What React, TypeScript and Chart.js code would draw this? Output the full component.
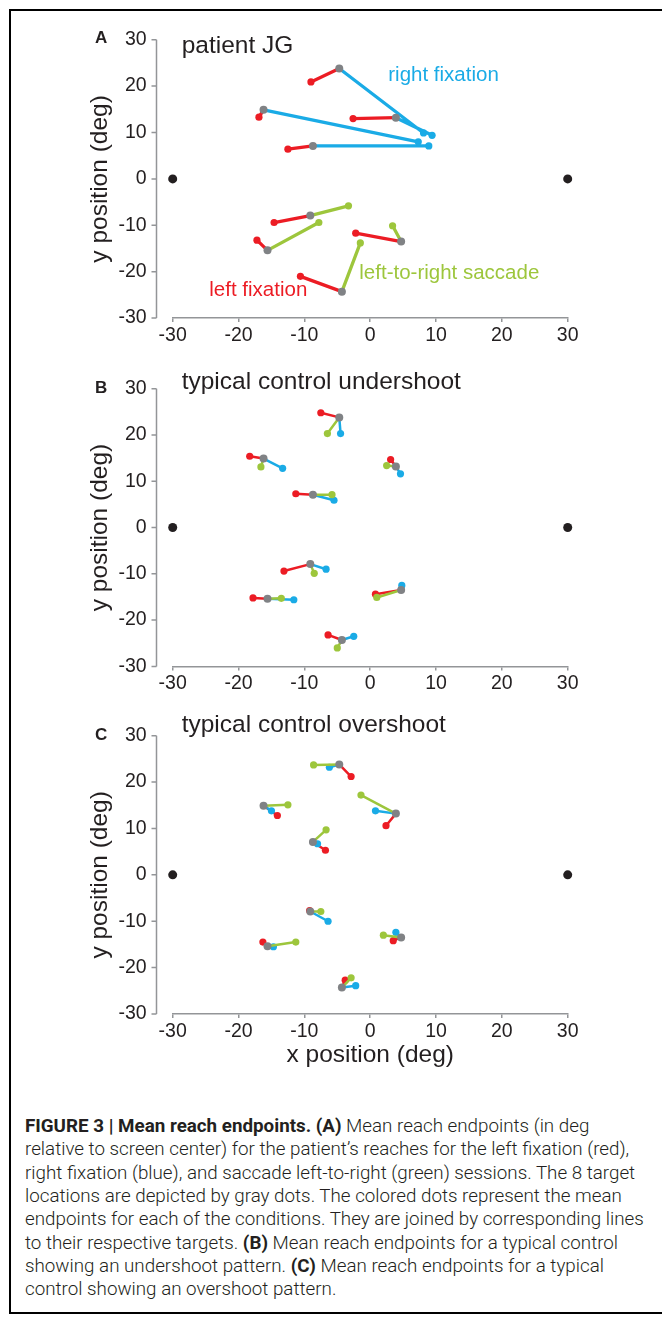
import React, { useEffect, useRef } from "react";
import { Chart, registerables } from "chart.js";

Chart.register(...registerables);

// ---------------- data ----------------
const AXIS_MIN = -30;
const AXIS_MAX = 30;
const TICK_STEP = 10;

// fixation points (black)
const FIXATION_X = [-30, 30];
const FIXATION_Y = [0, 0];

// the 8 target locations (gray)
const TARGET_X = [-4.7, -16.2, 3.9, -8.7, -9.1, -15.6, 4.7, -4.3];
const TARGET_Y = [23.8, 14.9, 13.2, 7.1, -7.9, -15.4, -13.5, -24.3];

// Panel A – patient JG
const A_LEFT_X = [-9.0, -16.9, -2.6, -12.5, -14.6, -17.2, -2.2, -10.6];
const A_LEFT_Y = [20.9, 13.3, 13.0, 6.4, -9.4, -13.2, -11.7, -21.0];
const A_RIGHT_X = [8.1, 7.3, 9.4, 8.9, null, null, null, null];
const A_RIGHT_Y = [9.9, 8.0, 9.4, 7.1, null, null, null, null];
const A_SACC_X = [null, null, null, null, -3.3, -7.8, 3.4, -1.5];
const A_SACC_Y = [null, null, null, null, -5.8, -9.4, -10.1, -13.8];

// Panel B – typical control undershoot
const B_LEFT_X = [-7.5, -18.3, 3.1, -11.3, -13.1, -17.8, 0.8, -6.4];
const B_LEFT_Y = [24.8, 15.4, 14.7, 7.3, -9.4, -15.2, -14.4, -23.2];
const B_RIGHT_X = [-4.5, -13.3, 4.6, -5.5, -6.7, -11.6, 4.8, -2.5];
const B_RIGHT_Y = [20.3, 12.8, 11.6, 5.9, -9.0, -15.6, -12.5, -23.5];
const B_SACC_X = [-6.5, -16.6, 2.5, -5.8, -8.5, -13.5, 1.0, -5.0];
const B_SACC_Y = [20.3, 13.1, 13.4, 7.1, -9.9, -15.3, -15.1, -26.0];

// Panel C – typical control overshoot
const C_LEFT_X = [-2.9, -14.1, 2.4, -6.8, -9.2, -16.3, 3.5, -3.8];
const C_LEFT_Y = [21.2, 12.8, 10.6, 5.3, -7.7, -14.5, -14.2, -22.7];
const C_RIGHT_X = [-6.2, -15.0, 0.8, -8.0, -6.4, -14.7, 3.9, -2.2];
const C_RIGHT_Y = [23.2, 13.8, 13.8, 6.7, -10.0, -15.5, -12.4, -23.9];
const C_SACC_X = [-8.6, -12.5, -1.4, -6.7, -7.5, -11.3, 2.0, -2.9];
const C_SACC_Y = [23.7, 15.1, 17.2, 9.7, -7.9, -14.5, -13.0, -22.2];

const Y_TITLE = "y position (deg)";
const X_TITLE = "x position (deg)";

// ---------------- styles ----------------
const RED = "#ec1c24";
const BLUE = "#1aabe6";
const GREEN = "#9dc63c";
const GRAY = "#808285";
const BLACK = "#231f20";
const AXIS = "#939598";
const FONT = "'Liberation Sans', Arial, Helvetica, sans-serif";
const TEXT = "#231f20";

type Num = number | null;

function segments(tx: Num[], ty: Num[], ex: Num[], ey: Num[]) {
  const out: { x: Num; y: Num }[] = [];
  for (let i = 0; i < tx.length; i++) {
    if (ex[i] === null || ey[i] === null) continue;
    out.push({ x: tx[i], y: ty[i] }, { x: ex[i], y: ey[i] }, { x: null, y: null });
  }
  return out;
}

function condition(label: string, color: string, data: any[], lw: number, order: number) {
  const r = (ctx: any) => (ctx.dataIndex % 3 === 1 ? 3.6 : 0);
  return {
    label,
    data,
    showLine: true,
    spanGaps: false,
    borderColor: color,
    backgroundColor: color,
    borderWidth: lw,
    pointRadius: r,
    pointHoverRadius: r,
    pointBackgroundColor: color,
    pointBorderWidth: 0,
    clip: false,
    order,
  };
}

const Y_GAP = 16.7; // y axis line drawn left of x = -30

const offsetYAxis = {
  id: "offsetYAxis",
  afterDraw(chart: any) {
    const { ctx, chartArea } = chart;
    const y = chart.scales.y;
    const x0 = Math.round(chartArea.left - Y_GAP) + 0.5;
    ctx.save();
    ctx.strokeStyle = AXIS;
    ctx.lineWidth = 1.5;
    ctx.beginPath();
    ctx.moveTo(x0, y.getPixelForValue(AXIS_MAX));
    ctx.lineTo(x0, y.getPixelForValue(AXIS_MIN));
    y.ticks.forEach((t: any) => {
      const py = y.getPixelForValue(t.value);
      ctx.moveTo(x0 - 5, py);
      ctx.lineTo(x0, py);
    });
    ctx.stroke();
    ctx.restore();
  },
};

interface PanelCfg {
  left: number;
  top: number;
  width: number;
  height: number;
  padRight: number;
  yWidth: number;
  xHeight: number;
  lineWidth: number;
  showXTitle: boolean;
  left_x: Num[];
  left_y: Num[];
  right_x: Num[];
  right_y: Num[];
  sacc_x: Num[];
  sacc_y: Num[];
}

function buildConfig(c: PanelCfg): any {
  const tickFont = { family: FONT, size: 19.5 };
  const titleFont = { family: FONT, size: 24.5 };
  return {
    type: "scatter",
    data: {
      datasets: [
        {
          label: "fixation",
          data: FIXATION_X.map((x, i) => ({ x, y: FIXATION_Y[i] })),
          pointRadius: 4.5,
          pointBackgroundColor: BLACK,
          pointBorderWidth: 0,
          showLine: false,
          clip: false,
          order: 0,
        },
        {
          label: "targets",
          data: TARGET_X.map((x, i) => ({ x, y: TARGET_Y[i] })),
          pointRadius: 4,
          pointBackgroundColor: GRAY,
          pointBorderWidth: 0,
          showLine: false,
          clip: false,
          order: 0,
        },
        condition("left-to-right saccade", GREEN, segments(TARGET_X, TARGET_Y, c.sacc_x, c.sacc_y), c.lineWidth, 1),
        condition("right fixation", BLUE, segments(TARGET_X, TARGET_Y, c.right_x, c.right_y), c.lineWidth, 2),
        condition("left fixation", RED, segments(TARGET_X, TARGET_Y, c.left_x, c.left_y), c.lineWidth, 3),
      ],
    },
    options: {
      responsive: false,
      animation: false,
      events: [],
      layout: { padding: { left: 0, top: 0, right: c.padRight, bottom: 0 } },
      plugins: { legend: { display: false }, tooltip: { enabled: false }, title: { display: false } },
      scales: {
        x: {
          type: "linear",
          min: AXIS_MIN,
          max: AXIS_MAX,
          ticks: { stepSize: TICK_STEP, padding: 2, color: TEXT, font: tickFont, maxRotation: 0 },
          grid: { display: true, drawOnChartArea: false, drawTicks: true, tickLength: 4, color: AXIS, lineWidth: 1.5 },
          border: { display: true, color: AXIS, width: 1.5 },
          title: {
            display: c.showXTitle,
            text: X_TITLE,
            color: TEXT,
            font: titleFont,
            padding: { top: 0, bottom: 6 },
          },
          afterFit: (s: any) => {
            s.height = c.xHeight;
          },
        },
        y: {
          type: "linear",
          min: AXIS_MIN,
          max: AXIS_MAX,
          // y padding (26) + half label height (11.7) => 37.7px layout padding above/below the plot
          ticks: { stepSize: TICK_STEP, padding: 26, color: TEXT, font: tickFont },
          grid: { display: false, drawTicks: false },
          border: { display: false },
          title: {
            display: true,
            text: Y_TITLE,
            color: TEXT,
            font: titleFont,
            padding: { top: 6, bottom: 0 },
          },
          afterFit: (s: any) => {
            s.width = c.yWidth;
          },
        },
      },
    },
    plugins: [offsetYAxis],
  };
}

function Panel({ cfg }: { cfg: PanelCfg }) {
  const ref = useRef<HTMLCanvasElement | null>(null);
  useEffect(() => {
    const chart = new Chart(ref.current as HTMLCanvasElement, buildConfig(cfg));
    return () => chart.destroy();
  }, []);
  return (
    <canvas
      ref={ref}
      width={cfg.width}
      height={cfg.height}
      style={{ position: "absolute", left: cfg.left, top: cfg.top, width: cfg.width, height: cfg.height }}
    />
  );
}

// plot tops: 39.3 / 388.3 / 735.7 ; plot heights: 278.4 / 277.7 / 278.3 ; 37.7px auto padding above the plot
const PANELS: PanelCfg[] = [
  {
    left: 80, top: 1.6, width: 540, height: 356, padRight: 52.3, yWidth: 92.7, xHeight: 39.9,
    lineWidth: 3.3, showXTitle: false,
    left_x: A_LEFT_X, left_y: A_LEFT_Y, right_x: A_RIGHT_X, right_y: A_RIGHT_Y, sacc_x: A_SACC_X, sacc_y: A_SACC_Y,
  },
  {
    left: 80, top: 350.6, width: 540, height: 356, padRight: 52.3, yWidth: 92.7, xHeight: 40.6,
    lineWidth: 2.5, showXTitle: false,
    left_x: B_LEFT_X, left_y: B_LEFT_Y, right_x: B_RIGHT_X, right_y: B_RIGHT_Y, sacc_x: B_SACC_X, sacc_y: B_SACC_Y,
  },
  {
    left: 80, top: 698, width: 540, height: 378, padRight: 52.3, yWidth: 92.7, xHeight: 62,
    lineWidth: 2.5, showXTitle: true,
    left_x: C_LEFT_X, left_y: C_LEFT_Y, right_x: C_RIGHT_X, right_y: C_RIGHT_Y, sacc_x: C_SACC_X, sacc_y: C_SACC_Y,
  },
];

function Txt(props: { x: number; y: number; size: number; color?: string; bold?: boolean; children: any }) {
  return (
    <div
      style={{
        position: "absolute",
        left: props.x,
        top: props.y,
        fontFamily: FONT,
        fontSize: props.size,
        lineHeight: `${props.size}px`,
        fontWeight: props.bold ? 700 : 400,
        color: props.color || TEXT,
        whiteSpace: "nowrap",
      }}
    >
      {props.children}
    </div>
  );
}

const CAPTION_FONT = "Roboto, 'Liberation Sans', Arial, sans-serif";

export default function App() {
  return (
    <div>
      <div
        style={{
          position: "absolute",
          left: 9,
          top: 9,
          width: 653,
          height: 1305,
          boxSizing: "border-box",
          borderTop: "2px solid #000",
          borderLeft: "2px solid #000",
          borderBottom: "2px solid #000",
          background: "#fff",
        }}
      />
      {PANELS.map((p, i) => (
        <Panel key={i} cfg={p} />
      ))}
      <Txt x={95} y={28.9} size={17} bold>A</Txt>
      <Txt x={95} y={378.6} size={17} bold>B</Txt>
      <Txt x={95} y={725.6} size={17} bold>C</Txt>
      <Txt x={181.7} y={33.3} size={24.5}>patient JG</Txt>
      <Txt x={181.7} y={369} size={24.5}>typical control undershoot</Txt>
      <Txt x={181.7} y={711.5} size={24.5}>typical control overshoot</Txt>
      <Txt x={388.3} y={63.6} size={20.5} color={BLUE}>right fixation</Txt>
      <Txt x={209.3} y={279.3} size={20.5} color={RED}>left fixation</Txt>
      <Txt x={359.3} y={261.6} size={20.5} color={GREEN}>left-to-right saccade</Txt>
      <div
        style={{
          position: "absolute",
          left: 25,
          top: 1115,
          fontFamily: CAPTION_FONT,
          fontSize: 18.8,
          lineHeight: "23.33px",
          fontWeight: 300,
          color: TEXT,
          whiteSpace: "nowrap",
        }}
      >
        <div>
          <b style={{ fontWeight: 700 }}>FIGURE 3 | Mean reach endpoints.</b> <b style={{ fontWeight: 700 }}>(A)</b> Mean reach endpoints (in deg
        </div>
        <div>relative to screen center) for the patient’s reaches for the left fixation (red),</div>
        <div>right fixation (blue), and saccade left-to-right (green) sessions. The 8 target</div>
        <div>locations are depicted by gray dots. The colored dots represent the mean</div>
        <div>endpoints for each of the conditions. They are joined by corresponding lines</div>
        <div>
          to their respective targets. <b style={{ fontWeight: 700 }}>(B)</b> Mean reach endpoints for a typical control
        </div>
        <div>
          showing an undershoot pattern. <b style={{ fontWeight: 700 }}>(C)</b> Mean reach endpoints for a typical
        </div>
        <div>control showing an overshoot pattern.</div>
      </div>
    </div>
  );
}
